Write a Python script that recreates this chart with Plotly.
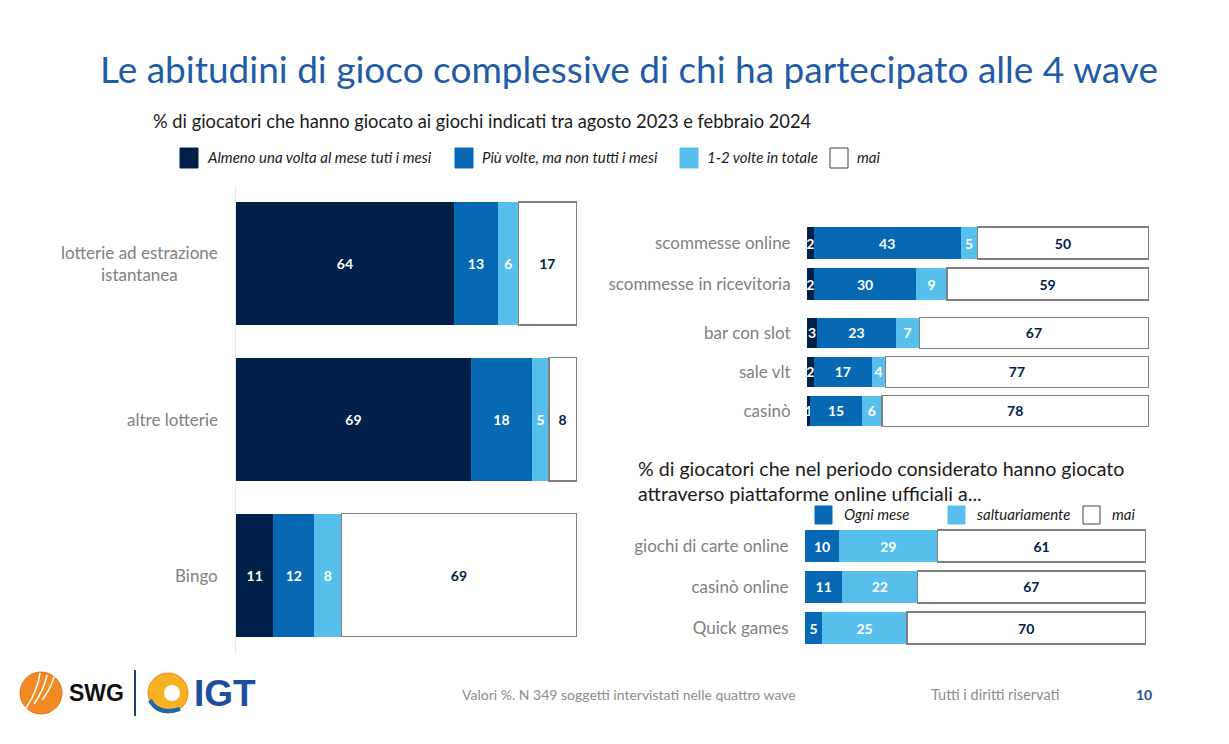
import plotly.graph_objects as go

W, H = 1229, 744

# ---------------- data ----------------
left_cats = ["lotterie ad estrazione<br>istantanea", "altre lotterie", "Bingo"]
left_monthly = [64, 69, 11]
left_several = [13, 18, 12]
left_onetwo = [6, 5, 8]
left_never = [17, 8, 69]

bets_cats = ["scommesse online", "scommesse in ricevitoria"]
bets_monthly = [2, 2]
bets_several = [43, 30]
bets_onetwo = [5, 9]
bets_never = [50, 59]

slot_cats = ["bar con slot", "sale vlt", "casinò"]
slot_monthly = [3, 2, 1]
slot_several = [23, 17, 15]
slot_onetwo = [7, 4, 6]
slot_never = [67, 77, 78]

online_cats = ["giochi di carte online", "casinò online", "Quick games"]
online_monthly = [10, 11, 5]
online_occasional = [29, 22, 25]
online_never = [61, 67, 70]

legend_main = ["Almeno una volta al mese tuti i mesi", "Più volte, ma non tutti i mesi",
               "1-2 volte in totale", "mai"]
legend_online = ["Ogni mese", "saltuariamente", "mai"]

title = "Le abitudini di gioco complessive di chi ha partecipato alle 4 wave"
subtitle = "% di giocatori che hanno giocato ai giochi indicati tra agosto 2023 e febbraio 2024"
subtitle2 = "% di giocatori che nel periodo considerato hanno giocato<br>attraverso piattaforme online ufficiali a..."
footer_note = "Valori %. N 349 soggetti intervistati nelle quattro wave"
footer_rights = "Tutti i diritti riservati"
page_no = "10"

# ---------------- style ----------------
FONT = "Lato"
NAVY = "#00204a"
MID = "#0769b4"
LIGHT = "#56bfeb"
BORDER = "#7f7f7f"
GRAY = "#808080"


def px(x):
    return x / W


def py(y):
    return 1 - y / H


fig = go.Figure()


def add_bar(cats, vals, color, ax, textcolor="white", outline=False):
    n = str(ax) if ax > 1 else ""
    fig.add_trace(go.Bar(
        y=cats, x=vals, orientation="h",
        xaxis="x" + n, yaxis="y" + n,
        marker=dict(color=color,
                    line=dict(color=BORDER if outline else color, width=1.5 if outline else 0)),
        text=vals, texttemplate="<b>%{x}</b>",
        textposition="inside", insidetextanchor="middle", textangle=0,
        constraintext="none",
        textfont=dict(family=FONT, size=14, color=textcolor),
        showlegend=False, hoverinfo="skip", cliponaxis=False,
    ))


# left panel (axis 1)
add_bar(left_cats, left_monthly, NAVY, 1)
add_bar(left_cats, left_several, MID, 1)
add_bar(left_cats, left_onetwo, LIGHT, 1)
add_bar(left_cats, left_never, "white", 1, NAVY, True)
# top-right group A (axis 2)
add_bar(bets_cats, bets_monthly, NAVY, 2)
add_bar(bets_cats, bets_several, MID, 2)
add_bar(bets_cats, bets_onetwo, LIGHT, 2)
add_bar(bets_cats, bets_never, "white", 2, NAVY, True)
# top-right group B (axis 3)
add_bar(slot_cats, slot_monthly, NAVY, 3)
add_bar(slot_cats, slot_several, MID, 3)
add_bar(slot_cats, slot_onetwo, LIGHT, 3)
add_bar(slot_cats, slot_never, "white", 3, NAVY, True)
# bottom-right (axis 4)
add_bar(online_cats, online_monthly, MID, 4)
add_bar(online_cats, online_occasional, LIGHT, 4)
add_bar(online_cats, online_never, "white", 4, NAVY, True)


def xax(x0, x1, anchor):
    return dict(domain=[px(x0), px(x1)], range=[0, 100.5], anchor=anchor,
                showgrid=False, zeroline=False, showticklabels=False, showline=False,
                fixedrange=True)


def yax(top, bottom, anchor, labels=True, line=False):
    return dict(domain=[py(bottom), py(top)], anchor=anchor, autorange="reversed",
                type="category",
                showgrid=False, zeroline=False, showticklabels=labels,
                ticks="outside" if labels else "", ticklen=12, tickcolor="rgba(0,0,0,0)",
                tickfont=dict(family=FONT, size=17, color=GRAY),
                showline=line, linecolor="#e6e6e6", linewidth=1, fixedrange=True)


fig.update_layout(
    width=W, height=H,
    margin=dict(l=0, r=0, t=0, b=0),
    paper_bgcolor="white", plot_bgcolor="rgba(0,0,0,0)",
    barmode="stack", bargap=0.21,
    font=dict(family=FONT),
    xaxis=xax(236, 578, "y"),
    yaxis=yax(185.5, 653, "x", labels=False, line=True),
    xaxis2=xax(807, 1150, "y2"),
    yaxis2=yax(222.5, 304.5, "x2"),
    xaxis3=xax(807, 1150, "y3"),
    yaxis3=yax(313.5, 430.5, "x3"),
    xaxis4=xax(805, 1147, "y4"),
    yaxis4=yax(525.5, 648.5, "x4"),
)

ann = []
# left panel category labels (right aligned block, centred lines)
for c in left_cats:
    ann.append(dict(xref="paper", yref="y", x=px(220), y=c, text=c, showarrow=False,
                    xanchor="right", yanchor="middle", align="center",
                    font=dict(family=FONT, size=17, color=GRAY)))

# title & subtitles
ann.append(dict(xref="paper", yref="paper", x=px(629), y=py(68), text=title, showarrow=False,
                xanchor="center", yanchor="middle",
                font=dict(family=FONT, size=37, color="#1f5ca8")))
ann.append(dict(xref="paper", yref="paper", x=px(151), y=py(121), text=subtitle, showarrow=False,
                xanchor="left", yanchor="middle",
                font=dict(family=FONT, size=18.3, color="#1a1a1a")))
ann.append(dict(xref="paper", yref="paper", x=px(636), y=py(455), text=subtitle2, showarrow=False,
                xanchor="left", yanchor="top", align="left",
                font=dict(family=FONT, size=19.6, color="#1a1a1a")))

shapes = []
# main legend
main_cols = [NAVY, MID, LIGHT, "white"]
main_sq_x = [180, 455, 680, 830]
for lab, col, x0 in zip(legend_main, main_cols, main_sq_x):
    shapes.append(dict(type="rect", xref="paper", yref="paper",
                       x0=px(x0), x1=px(x0 + 18), y0=py(168), y1=py(148),
                       fillcolor=col, line=dict(color="#404040" if col == "white" else col, width=1)))
    ann.append(dict(xref="paper", yref="paper", x=px(x0 + 25), y=py(157), text="<i>" + lab + "</i>",
                    showarrow=False, xanchor="left", yanchor="middle",
                    font=dict(family=FONT, size=15, color="#1a1a1a")))

# online legend
onl_cols = [MID, LIGHT, "white"]
onl_sq_x = [815, 948, 1083]
for lab, col, x0 in zip(legend_online, onl_cols, onl_sq_x):
    shapes.append(dict(type="rect", xref="paper", yref="paper",
                       x0=px(x0), x1=px(x0 + 17), y0=py(524), y1=py(506),
                       fillcolor=col, line=dict(color="#404040" if col == "white" else col, width=1)))
    ann.append(dict(xref="paper", yref="paper", x=px(x0 + 27), y=py(514), text="<i>" + lab + "</i>",
                    showarrow=False, xanchor="left", yanchor="middle",
                    font=dict(family=FONT, size=15, color="#1a1a1a")))

# footer
ann.append(dict(xref="paper", yref="paper", x=px(460), y=py(694), text=footer_note, showarrow=False,
                xanchor="left", yanchor="middle", font=dict(family=FONT, size=14, color="#8c8c8c")))
ann.append(dict(xref="paper", yref="paper", x=px(929), y=py(694), text=footer_rights, showarrow=False,
                xanchor="left", yanchor="middle", font=dict(family=FONT, size=14.5, color="#8c8c8c")))
ann.append(dict(xref="paper", yref="paper", x=px(1144), y=py(694), text="<b>" + page_no + "</b>",
                showarrow=False, xanchor="center", yanchor="middle",
                font=dict(family=FONT, size=14, color="#1f4e8c")))

# logos (approximation)
shapes.append(dict(type="circle", xref="paper", yref="paper", x0=px(20), x1=px(62),
                   y0=py(714), y1=py(672), fillcolor="#f08a24", line=dict(color="#e8731a", width=1)))
for k in range(3):
    shapes.append(dict(type="path", xref="paper", yref="paper",
                       path="M %f %f Q %f %f %f %f" % (px(26 + 8 * k), py(708 - 4 * k), px(38 + 6 * k), py(690),
                                                         px(40 + 7 * k), py(673 + 2 * k)),
                       line=dict(color="white", width=1.5)))
ann.append(dict(xref="paper", yref="paper", x=px(67), y=py(693), text="<b>SWG</b>", showarrow=False,
                xanchor="left", yanchor="middle", font=dict(family="Liberation Sans", size=23, color="#111111")))
shapes.append(dict(type="line", xref="paper", yref="paper", x0=px(135), x1=px(135),
                   y0=py(716), y1=py(670), line=dict(color="#1f3f7a", width=2)))
shapes.append(dict(type="circle", xref="paper", yref="paper", x0=px(148), x1=px(188),
                   y0=py(713), y1=py(673), fillcolor="#f6b023", line=dict(color="#f08a24", width=1)))
shapes.append(dict(type="path", xref="paper", yref="paper",
                   path="M %f %f Q %f %f %f %f" % (px(150), py(700), px(158), py(716), px(180), py(709)),
                   line=dict(color="#2266b0", width=4)))
shapes.append(dict(type="circle", xref="paper", yref="paper", x0=px(164), x1=px(180),
                   y0=py(701), y1=py(685), fillcolor="#ffffff", line=dict(color="#ffffff", width=0)))
ann.append(dict(xref="paper", yref="paper", x=px(192), y=py(693), text="<b>IGT</b>", showarrow=False,
                xanchor="left", yanchor="middle", font=dict(family="Liberation Sans", size=37, color="#1c4f9c")))

fig.update_layout(annotations=ann, shapes=shapes)
fig.write_html("out.html", config={"displayModeBar": False},
               post_script="document.body.style.margin='0';document.body.style.overflow='hidden';")
